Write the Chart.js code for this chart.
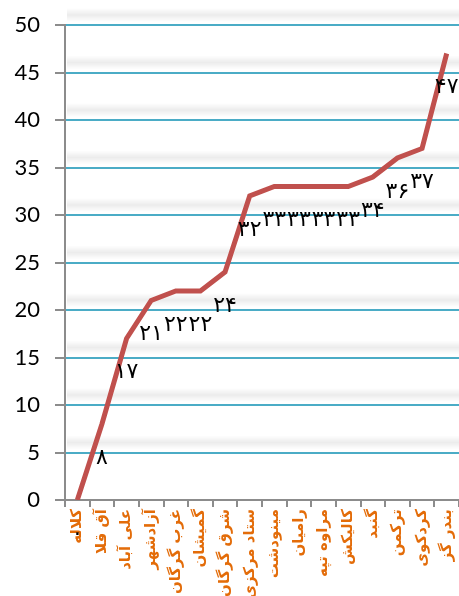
<!DOCTYPE html>
<html>
<head>
<meta charset="utf-8">
<script src="https://cdn.jsdelivr.net/npm/chart.js@4"></script>
<style>
  html, body { margin: 0; padding: 0; background: #fff; }
  #wrap { width: 459px; height: 596px; position: relative; }
</style>
</head>
<body>
<div id="wrap"><canvas id="chart"></canvas></div>
<script>
const districts = ['کلاله', 'آق قلا', 'علی آباد', 'آزادشهر', 'غرب گرگان', 'گمیشان', 'شرق گرگان', 'ستاد مرکزی',
    'مینودشت', 'رامیان', 'مراوه تپه', 'کالیکش', 'گنبد', 'ترکمن', 'کردکوی', 'بندر گز'];
const values = [0, 8, 17, 21, 22, 22, 24, 32, 33, 33, 33, 33, 34, 36, 37, 47];
const yTicks = [0, 5, 10, 15, 20, 25, 30, 35, 40, 45, 50];

const faDigits = '۰۱۲۳۴۵۶۷۸۹';
function toPersian(n) {
    return String(n).replace(/[0-9]/g, d => faDigits[d]);
}

// soft gray shadow just above each gridline
const bandPlugin = {
    id: 'bands',
    beforeDatasetsDraw(chart) {
        const { ctx, chartArea, scales } = chart;
        ctx.save();
        yTicks.forEach(v => {
            if (v === 0) return;
            const y = scales.y.getPixelForValue(v);
            const g = ctx.createLinearGradient(0, y - 17, 0, y - 3);
            g.addColorStop(0, 'rgba(0,0,0,0)');
            g.addColorStop(0.5, 'rgba(0,0,0,0.075)');
            g.addColorStop(1, 'rgba(0,0,0,0)');
            ctx.fillStyle = g;
            ctx.fillRect(chartArea.left + 2, y - 17, chartArea.right - chartArea.left, 14);
        });
        ctx.restore();
    }
};

// value labels below each point
const labelPlugin = {
    id: 'valueLabels',
    afterDatasetsDraw(chart) {
        const { ctx } = chart;
        const meta = chart.getDatasetMeta(0);
        ctx.save();
        ctx.font = '22px "DejaVu Sans"';
        ctx.fillStyle = '#000';
        ctx.textAlign = 'center';
        ctx.textBaseline = 'middle';
        meta.data.forEach((pt, i) => {
            ctx.fillText(toPersian(values[i]), pt.x, pt.y + 34);
        });
        ctx.restore();
    }
};

new Chart(document.getElementById('chart'), {
    type: 'line',
    data: {
        labels: districts,
        datasets: [{
            data: values,
            borderColor: '#C0504D',
            borderWidth: 5,
            pointRadius: 0,
            tension: 0,
            fill: false
        }]
    },
    options: {
        responsive: true,
        maintainAspectRatio: false,
        animation: false,
        layout: { padding: { top: 25, right: 0, left: 0, bottom: 0 } },
        plugins: {
            legend: { display: false },
            tooltip: { enabled: false }
        },
        scales: {
            x: {
                offset: true,
                grid: {
                    offset: true,
                    drawOnChartArea: false,
                    color: '#8c8c8c',
                    lineWidth: 2,
                    tickLength: 7
                },
                border: { color: '#8c8c8c', width: 2 },
                ticks: {
                    autoSkip: false,
                    minRotation: 90,
                    maxRotation: 90,
                    padding: 2,
                    color: '#E36C09',
                    font: { family: '"DejaVu Sans"', size: 15, weight: 'bold' }
                },
                afterFit(scale) {
                    scale.height = 96;
                    scale.paddingLeft = 0;
                    scale.paddingRight = 0;
                }
            },
            y: {
                min: 0,
                max: 50,
                afterBuildTicks(scale) {
                    scale.ticks = yTicks.map(v => ({ value: v }));
                },
                grid: {
                    color: ctx => ctx.tick && ctx.tick.value === 0 ? 'rgba(0,0,0,0)' : '#4BACC6',
                    tickColor: '#8c8c8c',
                    lineWidth: 2,
                    tickLength: 10
                },
                border: { color: '#8c8c8c', width: 2 },
                ticks: {
                    padding: 15,
                    color: '#000',
                    font: { family: 'Lato', size: 22 }
                },
                afterFit(scale) {
                    scale.width = 65;
                    scale.paddingTop = 0;
                    scale.paddingBottom = 0;
                }
            }
        }
    },
    plugins: [bandPlugin, labelPlugin]
});
</script>
</body>
</html>
